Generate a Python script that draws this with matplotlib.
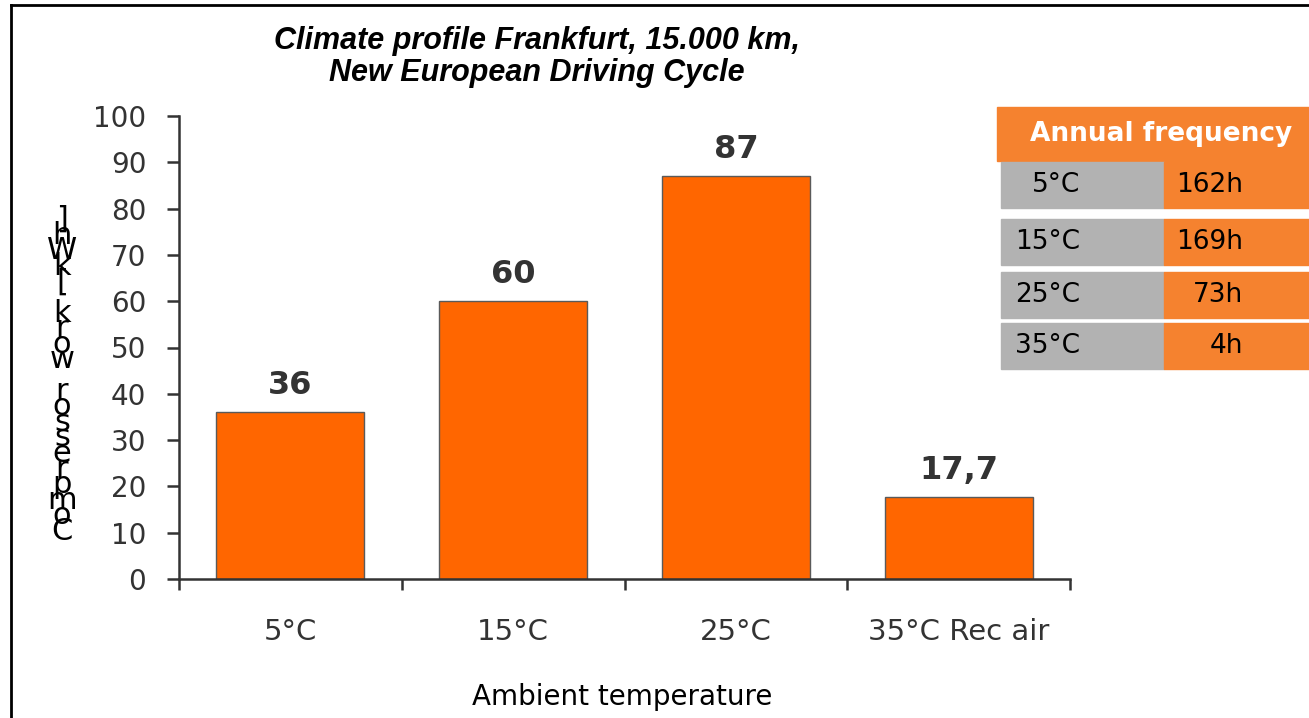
import matplotlib
matplotlib.use("Agg")
import matplotlib.pyplot as plt
from matplotlib.patches import Rectangle
from matplotlib.lines import Line2D
import numpy as np

# ---- data ----
categories = ["5°C", "15°C", "25°C", "35°C Rec air"]
values = [36, 60, 87, 17.7]
value_labels = ["36", "60", "87", "17,7"]
yticks = list(range(0, 101, 10))
table_temps = ["5°C", "15°C", "25°C", "35°C"]
table_hours = ["162h", "169h", "73h", "4h"]
title = "Climate profile Frankfurt, 15.000 km,\nNew European Driving Cycle"
xlabel = "Ambient temperature"
ylabel = "Compressor work [kWh]"
table_title = "Annual frequency"

W, H = 1309, 718
fig = plt.figure(figsize=(W / 100, H / 100), dpi=100)
fig.patch.set_facecolor("white")


def fx(x):
    return x / W


def fy(y):
    return 1 - y / H


BAR = "#FF6600"
ORANGE = "#F5822F"
GRAY = "#B2B2B2"
AXC = "#333333"

ax = fig.add_axes([fx(179), fy(579), (1070 - 179) / W, (579 - 116) / H])
x = np.arange(len(categories))
ax.bar(x, values, width=0.665, color=BAR, edgecolor="#5a5a5a", linewidth=1.0, zorder=2)
ax.set_xlim(-0.5, len(categories) - 0.5)
ax.set_ylim(0, 100)
ax.set_yticks(yticks)
ax.set_yticklabels([str(t) for t in yticks])
ax.set_xticks(x)
ax.set_xticklabels(categories)
ax.set_xticks(np.arange(-0.5, len(categories)), minor=True)
ax.tick_params(axis="x", which="major", length=0, pad=28, labelsize=21, labelcolor=AXC)
ax.tick_params(axis="x", which="minor", length=8, width=1.8, color=AXC, direction="out")
ax.tick_params(axis="y", which="major", length=8.5, width=1.8, color=AXC, pad=15,
               labelsize=20, labelcolor=AXC)
for s in ["top", "right"]:
    ax.spines[s].set_visible(False)
for s in ["left", "bottom"]:
    ax.spines[s].set_color(AXC)
    ax.spines[s].set_linewidth(1.8)
ax.set_facecolor("white")

for xi, v, lab in zip(x, values, value_labels):
    ax.annotate(lab, (xi, v), xytext=(0, 8), textcoords="offset points",
                ha="center", va="bottom", fontsize=23, fontweight="bold", color=AXC)

# title
fig.text(fx(537), fy(57), title, ha="center", va="center", fontsize=22,
         fontweight="bold", fontstyle="italic", family="Liberation Sans",
         linespacing=1.05)

# x label
fig.text(fx(622), fy(697), xlabel, ha="center", va="center", fontsize=20, color="black")

# stacked y label (characters bottom-to-top, upright, overlapping)
chars = list(ylabel)
base_bottom = 540
step = (540 - 228) / (len(chars) - 1)
for i, ch in enumerate(chars):
    fig.text(fx(62), fy(base_bottom - i * step), ch, ha="center", va="baseline",
             fontsize=22, color="black")

# table
fig.patches.append(Rectangle((fx(997), fy(161)), (W - 997) / W, (161 - 107) / H,
                             transform=fig.transFigure, color=ORANGE, zorder=1))
fig.text(fx(1161), fy(134), table_title, ha="center", va="center", fontsize=19,
         fontweight="bold", color="white")
row_tops = [162, 219, 272, 323]
row_h = 46
for top, t, hr in zip(row_tops, table_temps, table_hours):
    fig.patches.append(Rectangle((fx(1001), fy(top + row_h)), (1164 - 1001) / W, row_h / H,
                                 transform=fig.transFigure, color=GRAY, zorder=1))
    fig.patches.append(Rectangle((fx(1164), fy(top + row_h)), (W - 1164) / W, row_h / H,
                                 transform=fig.transFigure, color=ORANGE, zorder=1))
    fig.text(fx(1080), fy(top + row_h / 2), t, ha="right", va="center", fontsize=19,
             color="black")
    fig.text(fx(1243), fy(top + row_h / 2), hr, ha="right", va="center", fontsize=19,
             color="black")

# outer border (left and top)
fig.lines.append(Line2D([fx(11), fx(11)], [fy(5), 0], transform=fig.transFigure,
                        color="black", linewidth=2))
fig.lines.append(Line2D([fx(11), 1], [fy(5), fy(5)], transform=fig.transFigure,
                        color="black", linewidth=2))

fig.savefig("out.png", dpi=100, facecolor="white")
